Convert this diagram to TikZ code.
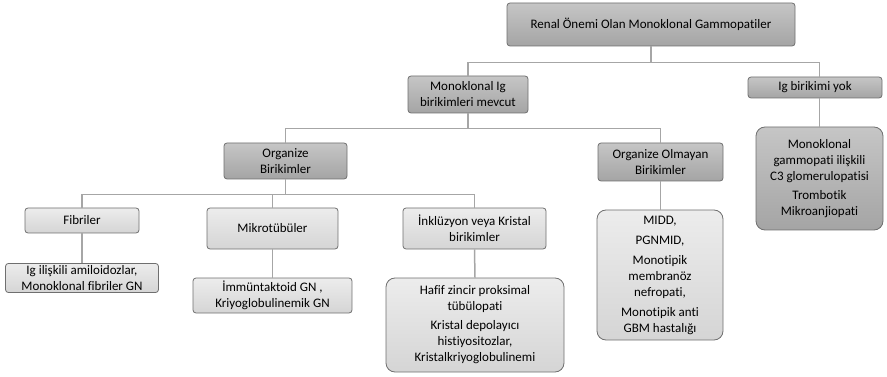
\documentclass[tikz,border=0pt]{standalone}
\usepackage{fontspec}
\setmainfont[Ligatures=NoCommon]{Carlito}
\definecolor{boxdark}{HTML}{ADADAD}
\definecolor{boxlight}{HTML}{E0E0E0}
\definecolor{edgegray}{HTML}{6F6F6F}
\definecolor{linegray}{HTML}{A6A6A6}
\tikzset{
  kutu/.style={draw=edgegray, line width=0.8pt, align=center, inner sep=2pt,
    font=\fontsize{13}{16}\selectfont},
  koyu/.style={kutu, rounded corners=3pt, top color=boxdark!70!white, bottom color=boxdark!95!black},
  acik/.style={kutu, rounded corners=3pt, top color=boxlight!60!white, bottom color=boxlight!95!black},
  buyuk/.style={rounded corners=9pt},
  baglanti/.style={draw=linegray, line width=1.5pt}
}
\begin{document}
\begin{tikzpicture}[x=1pt,y=-1pt]
				\useasboundingbox (0,0) rectangle (887,377);

				\node[koyu, minimum width=288, minimum height=43] at (651,24.5) (renal) {Renal Önemi Olan Monoklonal Gammopatiler};

				\node[koyu, minimum width=120, minimum height=37] at (468,94.5) (monoig) {Monoklonal Ig\\birikimleri mevcut};
				\node[koyu, minimum width=134, minimum height=21] at (815,87.5) (igyok) {Ig birikimi yok};

				\node[koyu, minimum width=123, minimum height=36] at (285.5,161) (organize) {Organize\\Birikimler};
				\node[koyu, minimum width=125, minimum height=38] at (660.5,162) (olmayan) {Organize Olmayan\\Birikimler};
				\node[koyu, buyuk, minimum width=127, minimum height=103] at (819.5,178.5) (c3) {Monoklonal\\gammopati ilişkili\\C3 glomerulopatisi\\[3pt]Trombotik\\Mikroanjiopati};

				\node[acik, minimum width=114, minimum height=25] at (82,220.5) (fibril) {Fibriler};
				\node[acik, minimum width=131, minimum height=41] at (272.5,228.5) (mikro) {Mikrotübüler};
				\node[acik, minimum width=143, minimum height=41] at (474.5,228.5) (inkluzyon) {İnklüzyon veya Kristal\\birikimler};

				\node[acik, minimum width=153, minimum height=28] at (82,278) (amiloid) {Ig ilişkili amiloidozlar,\\Monoklonal fibriler GN};
				\node[acik, minimum width=159, minimum height=35] at (272.5,295.5) (immun) {İmmüntaktoid GN ,\\Kriyoglobulinemik GN};
				\node[acik, buyuk, minimum width=178, minimum height=94] at (475,325) (hafif) {Hafif zincir proksimal\\tübülopati\\[3pt]Kristal depolayıcı\\histiyositozlar,\\Kristalkriyoglobulinemi};
				\node[acik, buyuk, minimum width=126, minimum height=130] at (660,275) (midd) {MIDD,\\[4pt]PGNMID,\\[4pt]Monotipik\\membranöz\\nefropati,\\[4pt]Monotipik anti\\GBM hastalığı};

				% ust seviye
				\draw[baglanti] (renal.south) -- ++(0,16) -| (monoig.north);
				\draw[baglanti] (renal.south) -- ++(0,16) -| (c3.north|-igyok.north);
				\draw[baglanti] (c3.north|-igyok.south) -- (c3.north);

				% monoklonal ig birikimleri
				\draw[baglanti] (monoig.south) -- ++(0,15) -| (organize.north);
				\draw[baglanti] (monoig.south) -- ++(0,15) -| (olmayan.north);
				\draw[baglanti] (olmayan.south) -- (midd.north-|olmayan.south);

				% organize birikimler
				\draw[baglanti] (organize.south) -- ++(0,15) -| (fibril.north);
				\draw[baglanti] (organize.south) -- ++(0,15) -| (mikro.north);
				\draw[baglanti] (organize.south) -- ++(0,15) -| (inkluzyon.north);

				\draw[baglanti] (fibril.south) -- (amiloid.north);
				\draw[baglanti] (mikro.south) -- (immun.north);
				\draw[baglanti] (inkluzyon.south) -- (hafif.north);
\end{tikzpicture}
\end{document}
